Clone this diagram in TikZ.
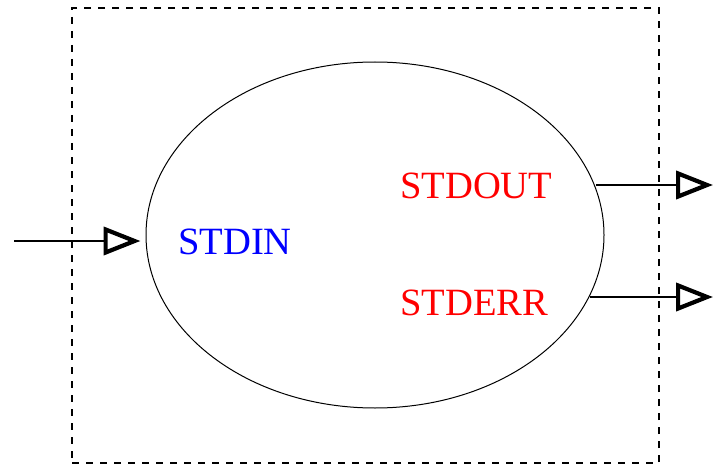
\documentclass[tikz,border=0pt]{standalone}
\usepackage{fontspec}
\setmainfont{Liberation Serif}
\usetikzlibrary{arrows.meta,shapes.geometric}
\begin{document}
\begin{tikzpicture}[x=1pt,y=-1pt,
  stream/.style={line width=1.4pt,
    -{Triangle[open,length=37pt,width=28pt,line width=4.2pt]}},
  lbl/.style={anchor=base west,inner sep=0pt,font=\fontsize{38.6}{42}\selectfont}]
  \useasboundingbox (0,0) rectangle (714,465);
  % process boundary
  \node[draw,dashed,dash pattern=on 7pt off 7pt,line width=1.2pt,
        minimum width=587pt,minimum height=455pt,inner sep=0pt]
        (box) at (365.5,235.5) {};
  % the process itself
  \node[draw,ellipse,line width=1pt,minimum width=458pt,minimum height=346pt,
        inner sep=0pt] (proc) at (375,235) {};
  % stream labels
  \node[lbl,text=blue] (in) at (178,254) {STDIN};
  \node[lbl,text=red] (out) at (400,198) {STDOUT};
  \node[lbl,text=red] (err) at (400,315) {STDERR};
  % connectors
  \coordinate (src) at (14,241);
  \coordinate (outend) at (713,185);
  \coordinate (errend) at (713,297);
  \draw[stream,shorten >=5pt] (src) -- (proc.west |- src);
  \draw[stream] (proc.12.9 |- outend) -- (outend);
  \draw[stream] (proc.-16.2 |- errend) -- (errend);
\end{tikzpicture}
\end{document}
